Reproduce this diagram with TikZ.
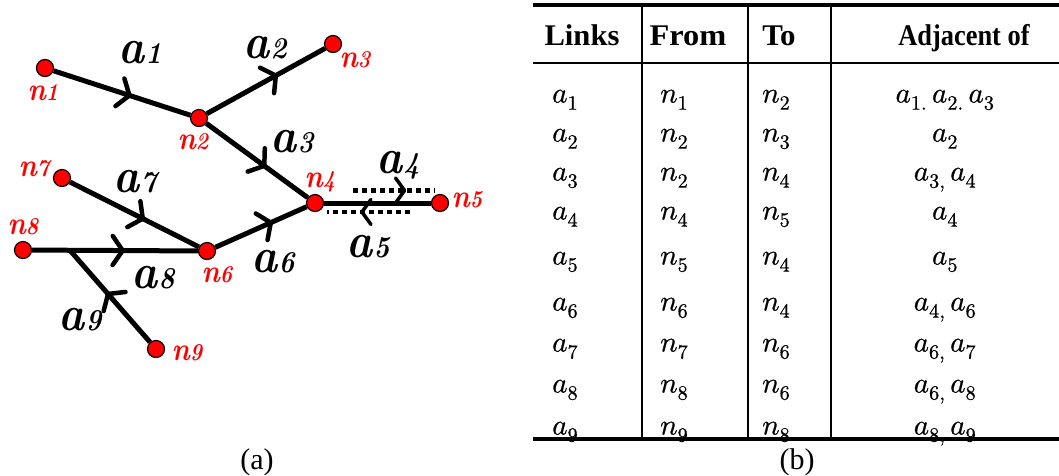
\documentclass[tikz,border=0pt]{standalone}
\usepackage{fontspec}
\usepackage{unicode-math}
\setmathfont{Latin Modern Math}[FakeBold=0.7]
\newfontfamily\timesf{Liberation Serif}
\usetikzlibrary{arrows.meta,decorations.markings,calc}
\newcommand\elab[2]{\scalebox{1}[1.12]{{\fontsize{44}{44}\selectfont\bfseries\itshape #1\kern1pt}{\fontsize{27}{27}\selectfont\bfseries\itshape #2}}}
\newcommand\nlab[2]{\scalebox{1}[1.15]{{\fontsize{28}{28}\selectfont\bfseries\itshape #1}{\fontsize{21}{21}\selectfont\bfseries\itshape #2}}}
\tikzset{
  nd/.style={circle,fill=red,draw=black,line width=1.2pt,minimum size=17pt,inner sep=0pt},
  ed/.style={line width=5pt},
  chevat/.style={postaction={decorate},decoration={markings,mark=at position #1 with {\arrow{Straight Barb[length=10pt 0,width=29pt 0,line width=4.5pt 0,round]}}}},
  dotl/.style={line width=4.5pt,dash pattern=on 5pt off 4pt},
  dchev/.style={postaction={decorate},decoration={markings,mark=at position #1 with {\arrow{Straight Barb[length=9pt 0,width=25pt 0,line width=3.5pt 0,round]}}}},
  elabs/.style={inner sep=0pt,text=black},
  nlabs/.style={inner sep=0pt,text=red},
  hd/.style={inner sep=0pt,anchor=base,font=\timesf\bfseries\fontsize{30}{30}\selectfont},
  cell/.style={inner sep=0pt,anchor=base west,font=\fontsize{29}{30}\selectfont},
  cellc/.style={inner sep=0pt,anchor=base,font=\fontsize{29}{30}\selectfont},
  capt/.style={inner sep=0pt,anchor=base,font=\timesf\fontsize{30}{30}\selectfont},
  thick rule/.style={line width=3.5pt},
  thin rule/.style={line width=2pt}
}
\begin{document}
\begin{tikzpicture}[x=1pt,y=-1pt]
\useasboundingbox (0,0) rectangle (1059,475);
% ---- graph nodes
\node[nd] (n1) at (45,68) {};
\node[nd] (n2) at (199,118) {};
\node[nd] (n3) at (333,44) {};
\node[nd] (n4) at (315,203) {};
\node[nd] (n5) at (440,203) {};
\node[nd] (n6) at (207,251) {};
\node[nd] (n7) at (62,178) {};
\node[nd] (n8) at (23,250) {};
\node[nd] (n9) at (156,349) {};
\coordinate (J) at ($(n8)!0.255!(n6)$);
% ---- edges
\draw[ed,chevat=0.57] (n1) -- (n2);
\draw[ed,chevat=0.60] (n2) -- (n3);
\draw[ed,chevat=0.59] (n2) -- (n4);
\draw[ed] (n4) -- (n5);
\draw[ed,chevat=0.63] (n6) -- (n4);
\draw[ed,chevat=0.58] (n7) -- (n6);
\draw[ed,chevat=0.56] (n8) -- (n6);
\draw[ed,chevat=0.545] (n9) -- (J);
% ---- dotted a4 / a5
\coordinate (u1) at (353,190.5);
\coordinate (u2) at (435,190.5);
\coordinate (l1) at (410,212);
\coordinate (l2) at (327,212);
\draw[dotl,dchev=0.65] (u1) -- (u2);
\draw[dotl,dchev=0.60] (l1) -- (l2);
% ---- edge labels
\node[elabs] (la1) at (140,53) {\elab{a}{1}};
\node[elabs] (la2) at (265,48) {\elab{a}{2}};
\node[elabs] (la3) at (292,142) {\elab{a}{3}};
\node[elabs] (la4) at (398,165) {\elab{a}{4}};
\node[elabs] (la5) at (368,247) {\elab{a}{5}};
\node[elabs] (la6) at (273,262) {\elab{a}{6}};
\node[elabs] (la7) at (135,182) {\elab{a}{7}};
\node[elabs] (la8) at (153,278) {\elab{a}{8}};
\node[elabs] (la9) at (80,320) {\elab{a}{9}};
% ---- node labels
\node[nlabs] (ln1) at (43,93) {\nlab{n}{1}};
\node[nlabs] (ln2) at (193,142) {\nlab{n}{2}};
\node[nlabs] (ln3) at (355,60) {\nlab{n}{3}};
\node[nlabs] (ln4) at (320,182) {\nlab{n}{4}};
\node[nlabs] (ln5) at (467,200) {\nlab{n}{5}};
\node[nlabs] (ln6) at (217,275) {\nlab{n}{6}};
\node[nlabs] (ln7) at (34,169) {\nlab{n}{7}};
\node[nlabs] (ln8) at (23,227) {\nlab{n}{8}};
\node[nlabs] (ln9) at (187,353) {\nlab{n}{9}};
% ---- table rules
\draw[thick rule] (533,5) -- (1059,5);
\draw[thin rule] (533,62.5) -- (1059,62.5);
\draw[thick rule] (533,439) -- (1059,439);
\draw[thin rule] (641.5,5) -- (641.5,439);
\draw[thin rule] (748,5) -- (748,439);
\draw[thin rule] (830.7,5) -- (830.7,439);
% ---- header
\node[hd] (h1) at (582,45) {\scalebox{1.02}[1]{Links}};
\node[hd] (h2) at (688,45) {\scalebox{1.08}[1]{From}};
\node[hd] (h3) at (779,45) {\scalebox{1.03}[1]{To}};
\node[hd] (h4) at (964,45) {\scalebox{0.88}[1]{Adjacent of}};
% ---- rows
\foreach \i/\A/\F/\T/\D/\y in {
  1/a_1/n_1/n_2/{a_{1.}\,a_{2.}\,a_3}/102.5,
  2/a_2/n_2/n_3/{a_2}/141.5,
  3/a_3/n_2/n_4/{a_{3,}\,a_4}/180.5,
  4/a_4/n_4/n_5/{a_4}/219.5,
  5/a_5/n_5/n_4/{a_5}/264.5,
  6/a_6/n_6/n_4/{a_{4,}\,a_6}/310.5,
  7/a_7/n_7/n_6/{a_{6,}\,a_7}/351.5,
  8/a_8/n_8/n_6/{a_{6,}\,a_8}/392.5,
  9/a_9/n_9/n_8/{a_{8,}\,a_9}/434.5}{
  \node[cell] (L\i) at (552,\y) {$\A$};
  \node[cell] (F\i) at (660,\y) {$\F$};
  \node[cell] (T\i) at (762,\y) {$\T$};
  \node[cellc] (D\i) at (945,\y) {$\D$};
}
% ---- captions
\node[capt] (capa) at (257,469) {(a)};
\node[capt] (capb) at (797,469) {(b)};
\end{tikzpicture}
\end{document}
